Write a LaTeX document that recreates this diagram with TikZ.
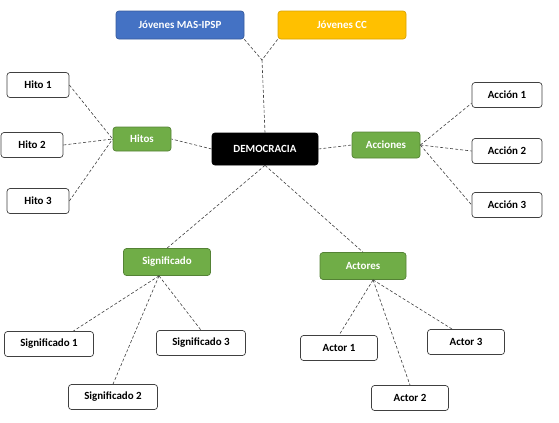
\documentclass[tikz,border=0pt]{standalone}
\usepackage{fontspec}
\setmainfont{Carlito}
\definecolor{masblue}{HTML}{4472C4}
\definecolor{ccgold}{HTML}{FFC000}
\definecolor{hubgreen}{HTML}{70AD47}
\definecolor{hubedge}{HTML}{548235}
\begin{document}
\begin{tikzpicture}[x=1bp,y=-1bp,
    leaf/.style={draw=black!75,fill=white,rounded corners=3bp,line width=0.7pt,
      minimum height=25bp,inner sep=0pt,font=\bfseries\fontsize{11}{13}\selectfont},
    hub/.style={draw=hubedge,fill=hubgreen,text=white,rounded corners=3bp,line width=0.7pt,
      minimum height=26bp,inner sep=0pt,font=\bfseries\fontsize{11}{13}\selectfont},
    link/.style={dash pattern=on 3bp off 2bp,black!75,line width=0.6pt}]
    \useasboundingbox (0,0) rectangle (559,422);

    % centre and groups
    \node[hub,draw=black,fill=black,minimum width=106bp,minimum height=32bp] (demo) at (265,149) {DEMOCRACIA};
    \node[hub,draw=masblue!80!black,fill=masblue,minimum width=128bp,minimum height=28bp] (mas) at (180,25) {Jóvenes MAS-IPSP};
    \node[hub,draw=ccgold!85!black,fill=ccgold,minimum width=128bp,minimum height=28bp] (cc) at (342,25) {Jóvenes CC};
    \node[hub,minimum width=58bp,minimum height=24bp] (hitos) at (142,139) {Hitos};
    \node[hub,minimum width=68bp] (acc) at (386,145) {Acciones};
    \node[hub,minimum width=87bp,minimum height=27bp] (sig) at (167,262) {Significado};
    \node[hub,minimum width=86bp,minimum height=27bp] (act) at (363,266) {Actores};

    \coordinate (j) at (262,60);
    \draw[link] (mas.south east) -- (j) -- (cc.south west);
    \draw[link] (j) -- (demo.north);
    \draw[link] (demo.west) -- (hitos.east);
    \draw[link] (demo.east) -- (acc.west);
    \draw[link] (demo.south) -- (sig.north);
    \draw[link] (demo.south) -- (act.north);

    % hitos
    \foreach \x/\y/\k in {38/85/1,32/145/2,38/201/3} {
        \node[leaf,minimum width=62bp] (h\k) at (\x,\y) {Hito \k};
        \draw[link] (h\k.east) -- (hitos.west);
    }
    % acciones
    \foreach \y/\k/\a in {95/1/193,151/2/180,205/3/180} {
        \node[leaf,minimum width=70bp] (a\k) at (507,\y) {Acción \k};
        \draw[link] (acc.east) -- (a\k.\a);
    }
    % significado
    \foreach \x/\y/\k/\a in {49/344/1/28,113/397/2/90,201/343/3/90} {
        \node[leaf,minimum width=89bp] (s\k) at (\x,\y) {Significado \k};
        \draw[link] (sig.240) -- (s\k.\a);
    }
    % actores
    \foreach \x/\y/\k/\a in {339/348/1/90,410/398/2/90,466/342/3/137} {
        \node[leaf,minimum width=77bp] (r\k) at (\x,\y) {Actor \k};
        \draw[link] (act.306) -- (r\k.\a);
    }
\end{tikzpicture}
\end{document}
